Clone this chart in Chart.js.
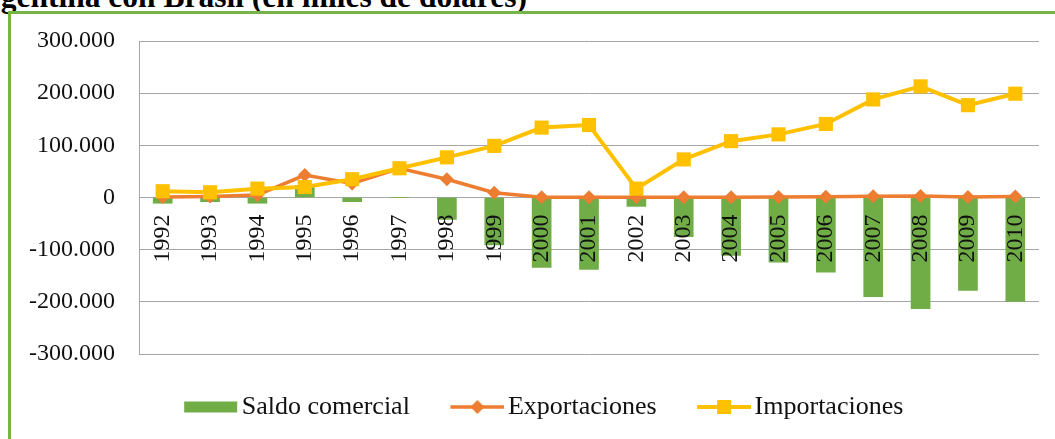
<!DOCTYPE html>
<html>
<head>
<meta charset="utf-8">
<script src="https://cdn.jsdelivr.net/npm/chart.js@4.4.1/dist/chart.umd.min.js"></script>
<style>
  html, body { margin: 0; padding: 0; width: 1055px; height: 439px; overflow: hidden; background: #fff; }
  #frame { position: absolute; left: 8px; top: 11px; width: 1200px; height: 600px;
           border-left: 3px solid #76B44A; border-top: 3px solid #76B44A; }
  #title { position: absolute; left: -36px; top: -19px; white-space: nowrap;
           font-family: "Liberation Serif", serif; font-weight: bold; font-size: 31.5px; line-height: 32px; color: #000; }
  #c { position: absolute; left: 12px; top: 14px; }
</style>
</head>
<body>
<div id="title">Argentina con Brasil (en miles de dólares)</div>
<div id="frame"></div>
<canvas id="c" width="1063" height="425"></canvas>
<script>
const years = ['1992','1993','1994','1995','1996','1997','1998','1999','2000','2001','2002','2003','2004','2005','2006','2007','2008','2009','2010'];
const saldoComercial = [-11000,-8000,-11000,23000,-8000,0,-42000,-91000,-134000,-138000,-17000,-75000,-111000,-124000,-143000,-190000,-213000,-178000,-199000];
const exportaciones = [1000,2000,5000,43000,27000,56000,35000,9000,500,500,500,500,500,1000,1500,2500,3000,1000,2000];
const importaciones = [12000,10000,17000,20000,35000,56000,77000,99000,134000,139000,17000,73000,108000,121000,141000,188000,213000,177000,199000];
const yTickLabels = ['-300.000','-200.000','-100.000','0','100.000','200.000','300.000'];
const seriesNames = ['Saldo comercial','Exportaciones','Importaciones'];

const GREEN = '#70AD47', ORANGE = '#ED7D31', YELLOW = '#FFC000';
const FONT = '"Liberation Serif", "Times New Roman", serif';

function legendSymbol(kind) {
  const c = document.createElement('canvas');
  c.width = 64; c.height = 20;
  const g = c.getContext('2d');
  const x0 = 10, w = 54, cy = 10;
  if (kind === 0) {
    g.fillStyle = GREEN; g.fillRect(x0, cy - 5.5, 53, 11);
  } else if (kind === 1) {
    g.strokeStyle = ORANGE; g.lineWidth = 3.5;
    g.beginPath(); g.moveTo(x0, cy); g.lineTo(x0 + w, cy); g.stroke();
    g.fillStyle = ORANGE; const cx = x0 + w / 2, r = 7;
    g.beginPath(); g.moveTo(cx - r, cy); g.lineTo(cx, cy - r); g.lineTo(cx + r, cy); g.lineTo(cx, cy + r); g.closePath(); g.fill();
  } else {
    g.strokeStyle = YELLOW; g.lineWidth = 4;
    g.beginPath(); g.moveTo(x0, cy); g.lineTo(x0 + w, cy); g.stroke();
    g.fillStyle = YELLOW; const cx = x0 + w / 2;
    g.fillRect(cx - 7, cy - 7, 14, 14);
  }
  return c;
}
const symbols = [legendSymbol(0), legendSymbol(1), legendSymbol(2)];

// shift the legend so that it is centred on the full (wider) original frame
const legendShift = {
  id: 'legendShift',
  afterLayout(chart) {
    if (chart.legend) { chart.legend.left += 18; chart.legend.right += 18; }
  }
};

new Chart(document.getElementById('c'), {
  type: 'bar',
  data: {
    labels: years,
    datasets: [
      { type: 'bar', label: seriesNames[0], data: saldoComercial, backgroundColor: GREEN,
        barThickness: 19, order: 3 },
      { type: 'line', label: seriesNames[1], data: exportaciones, borderColor: ORANGE, backgroundColor: ORANGE,
        borderWidth: 3.5, pointStyle: 'rectRot', pointRadius: 7, pointBorderWidth: 0, tension: 0, order: 2 },
      { type: 'line', label: seriesNames[2], data: importaciones, borderColor: YELLOW, backgroundColor: YELLOW,
        borderWidth: 4, pointStyle: 'rect', pointRadius: 10, pointBorderWidth: 0, tension: 0, order: 1 }
    ]
  },
  plugins: [legendShift],
  options: {
    responsive: false,
    devicePixelRatio: 1,
    animation: false,
    layout: { padding: { top: 27, right: 36, bottom: 9, left: 0 } },
    scales: {
      y: {
        min: -300000, max: 300000,
        ticks: { stepSize: 100000, padding: 3, color: '#111',
                 font: { family: FONT, size: 24 },
                 callback: (v, i) => yTickLabels[i] },
        grid: { color: '#A6A6A6', lineWidth: 1, drawTicks: true, tickLength: 21, tickColor: 'rgba(0,0,0,0)' },
        border: { display: true, color: '#A6A6A6', width: 1 },
        afterFit: s => { s.width = 127; }
      },
      x: {
        position: { y: 0 },
        offset: true,
        grid: { display: false, drawTicks: false },
        border: { display: true, color: '#A6A6A6', width: 1 },
        ticks: { z: 1, minRotation: 90, maxRotation: 90, autoSkip: false, padding: 17, color: '#111',
                 font: { family: FONT, size: 24 } }
      }
    },
    plugins: {
      tooltip: { enabled: false },
      legend: {
        position: 'bottom',
        labels: {
          usePointStyle: true,
          pointStyleWidth: 45,
          padding: 40,
          color: '#111',
          font: { family: FONT, size: 26 },
          generateLabels: chart => seriesNames.map((name, i) => ({
            text: name, pointStyle: symbols[i], datasetIndex: i, hidden: false,
            lineWidth: 0, fillStyle: 'rgba(0,0,0,0)', strokeStyle: 'rgba(0,0,0,0)', fontColor: '#111'
          }))
        }
      }
    }
  }
});
</script>
</body>
</html>
